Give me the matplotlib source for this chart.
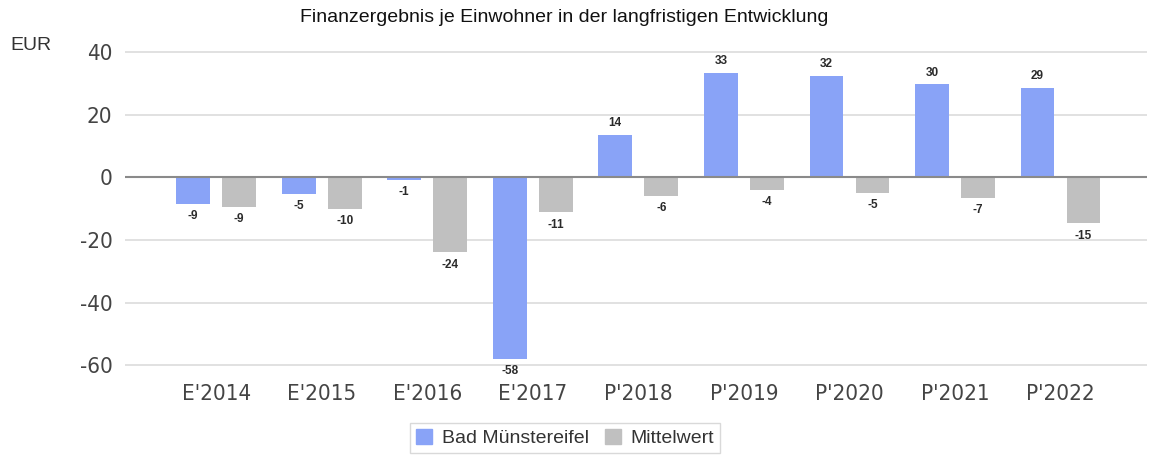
import matplotlib
matplotlib.use("Agg")
import matplotlib.pyplot as plt
import numpy as np
from matplotlib.patches import Patch

plt.rcParams['font.family'] = ['Liberation Sans', 'DejaVu Sans']
plt.rcParams['axes.unicode_minus'] = False

categories = ["E'2014", "E'2015", "E'2016", "E'2017", "P'2018", "P'2019", "P'2020", "P'2021", "P'2022"]
bad_muenstereifel = [-8.6, -5.4, -0.8, -58.1, 13.6, 33.4, 32.4, 29.7, 28.6]
mittelwert = [-9.4, -10.0, -24.0, -11.2, -6.0, -4.1, -4.9, -6.6, -14.7]
series_names = ["Bad Münstereifel", "Mittelwert"]
yticks = [-60, -40, -20, 0, 20, 40]

c_blue = "#89a3f7"
c_gray = "#c0c0c0"

fig = plt.figure(figsize=(11.51, 4.61), dpi=100)
ax = fig.add_axes([0.1086, 0.1876, 0.888, 0.7198])

x = np.arange(len(categories))
w = 0.32
off = 0.218
b1 = ax.bar(x - off, bad_muenstereifel, w, color=c_blue, zorder=3)
b2 = ax.bar(x + off, mittelwert, w, color=c_gray, zorder=3)

for bars, vals in ((b1, bad_muenstereifel), (b2, mittelwert)):
    for rect, v in zip(bars, vals):
        cx = rect.get_x() + rect.get_width() / 2
        if v >= 0:
            ax.annotate(f"{v:.0f}", (cx, v), xytext=(0, 4), textcoords="offset points",
                        ha="center", va="bottom", fontsize=8.5, fontweight="bold", color="#2a2a2a")
        else:
            ax.annotate(f"{v:.0f}", (cx, v), xytext=(0, -4.5), textcoords="offset points",
                        ha="center", va="top", fontsize=8.5, fontweight="bold", color="#2a2a2a")

ax.set_ylim(-63, 43)
ax.set_xlim(-0.863, 8.82)
ax.set_yticks(yticks)
ax.set_xticks(x)
ax.set_xticklabels(categories)
for s in ax.spines.values():
    s.set_visible(False)
ax.tick_params(axis="both", length=0, labelsize=17, colors="#444444")
for lab in ax.get_xticklabels() + ax.get_yticklabels():
    lab.set_family(['DejaVu Sans', 'Liberation Sans'])
    lab.set_stretch('condensed')
    lab.set_fontsize(16)
ax.tick_params(axis="y", pad=9)
ax.tick_params(axis="x", pad=7)
ax.yaxis.grid(True, color="#dcdcdc", linewidth=1.2, zorder=0)
ax.axhline(0, color="#8a8a8a", linewidth=1.5, zorder=4)

fig.text(0.490, 0.961, "Finanzergebnis je Einwohner in der langfristigen Entwicklung",
         ha="center", va="center", fontsize=14, color="#111111")
fig.text(0.009, 0.902, "EUR", ha="left", va="center", fontsize=14, color="#333333")

handles = [Patch(facecolor=c_blue, edgecolor=c_blue), Patch(facecolor=c_gray, edgecolor=c_gray)]
leg = fig.legend(handles, series_names, loc="lower center", bbox_to_anchor=(0.491, -0.004),
                 ncol=2, fontsize=14, frameon=True, fancybox=False, edgecolor="#d0d0d0",
                 handlelength=0.85, handleheight=0.85, handletextpad=0.5, columnspacing=0.8,
                 borderpad=0.3)
for t in leg.get_texts():
    t.set_color("#333333")

fig.savefig("out.png", dpi=100)
